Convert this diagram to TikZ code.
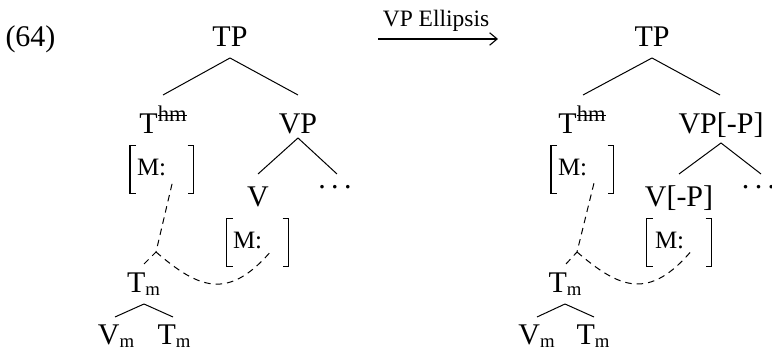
\documentclass[tikz,border=0pt]{standalone}
\usepackage{fontspec}
\setmainfont{Liberation Serif}
\usetikzlibrary{calc,arrows.meta}
\newcommand{\strk}[1]{\setbox0\hbox{#1}\rlap{\rule[2.4pt]{\wd0}{0.45pt}}\box0}
\newcommand{\supr}[1]{\raisebox{4.8pt}{\fontsize{9}{10}\selectfont #1}}
\newcommand{\subr}[1]{\raisebox{-1pt}{\fontsize{7.5}{8}\selectfont #1}}
\newcommand{\mydots}{.\kern2.2pt.\kern2.2pt.}
\newcommand{\avmbr}[1]{%
  \draw[brkline] ([xshift=2.4pt]#1.north west) -- (#1.north west) -- (#1.south west) -- ([xshift=2.4pt]#1.south west);
  \draw[brkline] ([xshift=-2.4pt]#1.north east) -- (#1.north east) -- (#1.south east) -- ([xshift=-2.4pt]#1.south east);}
\begin{document}
\begin{tikzpicture}[x=0.4pt,y=-0.4pt,
  lab/.style={inner sep=0pt, anchor=base, font=\fontsize{12}{14}\selectfont},
  avm/.style={inner sep=0pt, anchor=base west, font=\fontsize{10}{11}\selectfont},
  brk/.style={inner sep=0pt, minimum width=#1*0.4pt, minimum height=47*0.4pt},
  edge/.style={line width=0.4pt},
  link/.style={line width=0.4pt, dash pattern=on 2.6pt off 2pt},
  brkline/.style={line width=0.5pt}
]
\useasboundingbox (0,0) rectangle (772,350);

% example number
\node[lab, anchor=base west] (ex) at (5,47) {(64)};

% arrow
\node[inner sep=0pt, anchor=base, font=\fontsize{9.4}{11}\selectfont] (arrlab) at (436,26.5) {VP Ellipsis};
\coordinate (arrS) at (378,39);
\coordinate (arrE) at (498,39);
\draw[line width=0.45pt, -{Straight Barb[length=3pt,width=5pt]}] (arrS) -- (arrE);

% ---------------- left tree ----------------
\node[lab] (TP1) at (230,47) {TP};
\node[lab] (T1) at (163,134) {T\supr{\strk{hm}}};
\node[lab] (VP1) at (298,134) {VP};
\node[lab] (V1) at (258,207) {V};
\node[lab] (D1) at (335,189) {\mydots};
\node[lab] (TmA) at (143.5,293) {T\subr{m}};
\node[lab] (VmA) at (116,345) {V\subr{m}};
\node[lab] (TmB) at (174,345) {T\subr{m}};

\node[brk=62.5] (B1) at (161.75,169.5) {};
\node[avm] (M1) at (136.5,176) {M:};
\node[brk=61] (B2) at (257.5,242.5) {};
\node[avm] (M2) at (232.5,249) {M:};
\avmbr{B1}
\avmbr{B2}

\draw[edge] ($(TP1.base)+(0,11)$) -- ($(T1.base)+(0,-39)$);
\draw[edge] ($(TP1.base)+(0,11)$) -- ($(VP1.base)+(0,-39)$);
\draw[edge] ($(VP1.base)+(0,4)$) -- ($(V1.base)+(0,-33)$);
\draw[edge] ($(VP1.base)+(0,4)$) -- ($(D1.base)+(2,-15)$);
\draw[edge] ($(TmA.base)+(0.5,11)$) -- ($(VmA.base)+(-1,-28)$);
\draw[edge] ($(TmA.base)+(0.5,11)$) -- ($(TmB.base)+(-1,-28)$);

\coordinate (kA) at (156,252);
\coordinate (sA) at ($(B1.center)+(10.5,13.5)$);
\coordinate (eA) at ($(B2.center)+(14.5,7.5)$);
\draw[link] ($(TmA.base)+(0.5,-29)$) -- (kA) -- (sA);
\draw[link] (kA) .. controls (198,288) and (228,302) .. (eA);

% ---------------- right tree ----------------
\node[lab] (TP2) at (652,47) {TP};
\node[lab] (T2) at (582,134) {T\supr{\strk{hm}}};
\node[lab] (VP2) at (721,134) {VP[-P]};
\node[lab] (V2) at (679,207) {V[-P]};
\node[lab] (D2) at (758.5,189) {\mydots};
\node[lab] (TmC) at (565,293) {T\subr{m}};
\node[lab] (VmC) at (536.5,345) {V\subr{m}};
\node[lab] (TmD) at (593,345) {T\subr{m}};

\node[brk=61.5] (B3) at (582.25,169.5) {};
\node[avm] (M3) at (557.5,176) {M:};
\node[brk=64] (B4) at (679,242.5) {};
\node[avm] (M4) at (654.5,249) {M:};
\avmbr{B3}
\avmbr{B4}

\draw[edge] ($(TP2.base)+(0,11)$) -- ($(T2.base)+(1,-39)$);
\draw[edge] ($(TP2.base)+(0,11)$) -- ($(VP2.base)+(-1,-39)$);
\draw[edge] ($(VP2.base)+(0,9)$) -- ($(V2.base)+(0,-33)$);
\draw[edge] ($(VP2.base)+(0,9)$) -- ($(D2.base)+(2.5,-15)$);
\draw[edge] ($(TmC.base)+(0,11)$) -- ($(VmC.base)+(0.5,-28)$);
\draw[edge] ($(TmC.base)+(0,11)$) -- ($(TmD.base)+(1,-28)$);

\coordinate (kB) at (577,252);
\coordinate (sB) at ($(B3.center)+(11.75,13.5)$);
\coordinate (eB) at ($(B4.center)+(14,6.5)$);
\draw[link] ($(TmC.base)+(1,-29)$) -- (kB) -- (sB);
\draw[link] (kB) .. controls (619,288) and (649,302) .. (eB);
\end{tikzpicture}
\end{document}
